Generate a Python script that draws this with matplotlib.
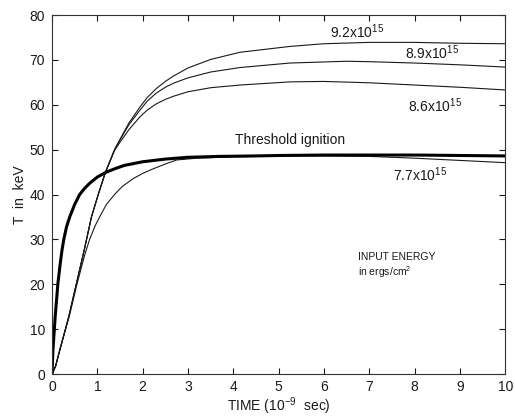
import matplotlib
matplotlib.use("Agg")
import matplotlib.pyplot as plt

plt.rcParams['font.family'] = ['Liberation Sans', 'DejaVu Sans']
plt.rcParams['mathtext.default'] = 'regular'

# Threshold ignition (thick curve)
t_thr = [0, 0.02, 0.07, 0.13, 0.18, 0.22, 0.26, 0.32, 0.39, 0.5, 0.61, 0.72, 0.83, 1.0,
         1.2, 1.4, 1.6, 1.8, 2.0, 2.5, 3.0, 3.7, 4.5, 5, 6, 7, 8, 9, 10]
T_thr = [0, 5.3, 12.8, 20.2, 24.5, 27.6, 30, 32.8, 35, 37.8, 40, 41.4, 42.5, 43.9,
         45, 45.8, 46.5, 46.9, 47.3, 47.9, 48.3, 48.5, 48.6, 48.7, 48.8, 48.8, 48.8, 48.7, 48.6]

# 9.2e15
t_92 = [0, 0.08, 0.17, 0.27, 0.37, 0.54, 0.71, 0.87, 1.02, 1.18, 1.38, 1.49, 1.7, 1.94,
        2.1, 2.3, 2.5, 2.68, 3.0, 3.5, 4.15, 5.25, 6, 7, 8, 9, 10]
T_92 = [0, 1.8, 5.3, 9, 12.8, 20.2, 27.6, 35, 40, 45, 50, 52.1, 56, 59.5,
        61.6, 63.6, 65.2, 66.4, 68.2, 70.1, 71.7, 73.0, 73.6, 73.9, 73.9, 73.7, 73.6]

# 8.9e15
t_89 = [0, 0.08, 0.17, 0.27, 0.37, 0.54, 0.71, 0.87, 1.02, 1.18, 1.38, 1.49, 1.7, 1.94,
        2.1, 2.3, 2.5, 2.68, 3.0, 3.5, 4.15, 5.25, 6.5, 7, 8, 9, 10]
T_89 = [0, 1.8, 5.3, 9, 12.8, 20.2, 27.6, 35, 40, 45, 50, 52.0, 55.6, 58.8,
        60.8, 62.6, 63.9, 64.8, 66.0, 67.3, 68.3, 69.3, 69.7, 69.6, 69.3, 68.9, 68.4]

# 8.6e15
t_86 = [0, 0.08, 0.17, 0.27, 0.37, 0.54, 0.71, 0.87, 1.02, 1.18, 1.38, 1.49, 1.7, 1.94,
        2.1, 2.3, 2.5, 2.68, 3.0, 3.5, 4.15, 5.25, 6, 7, 8, 9, 10]
T_86 = [0, 1.8, 5.3, 9, 12.8, 20.2, 27.6, 35, 40, 45, 49.8, 51.5, 54.5, 57.3,
        58.8, 60.2, 61.2, 61.9, 62.9, 63.8, 64.4, 65.1, 65.2, 64.9, 64.4, 63.9, 63.3]

# 7.7e15
t_77 = [0, 0.08, 0.17, 0.27, 0.38, 0.55, 0.72, 0.83, 0.95, 1.05, 1.2, 1.38, 1.55, 1.8,
        2.0, 2.2, 2.5, 2.75, 3.2, 4, 5, 6, 7, 7.5, 8, 9, 10]
T_77 = [0, 1.8, 5.3, 9, 12.8, 20, 26.5, 30, 33, 35, 37.8, 40, 41.8, 43.6,
        44.7, 45.6, 46.8, 47.7, 48.1, 48.4, 48.6, 48.6, 48.5, 48.3, 48.1, 47.6, 47.1]

curve_labels = ['9.2x10$^{15}$', '8.9x10$^{15}$', '8.6x10$^{15}$', '7.7x10$^{15}$']
x_ticks = list(range(0, 11))
y_ticks = list(range(0, 81, 10))

fig = plt.figure(figsize=(5.15, 4.17), dpi=100)
ax = fig.add_axes([0.101, 0.103, 0.880, 0.861])

col = '#1a1a1a'
for t, T in [(t_92, T_92), (t_89, T_89), (t_86, T_86), (t_77, T_77)]:
    ax.plot(t, T, color=col, lw=0.8)
ax.plot(t_thr, T_thr, color='black', lw=2.2)

ax.set_xlim(0, 10)
ax.set_ylim(0, 80)
ax.set_xticks(x_ticks)
ax.set_yticks(y_ticks)
ax.tick_params(direction='in', top=True, right=True, length=4, width=0.8,
               labelsize=10, colors=col)
ax.tick_params(axis='x', pad=4)
ax.tick_params(axis='y', pad=5)
for s in ax.spines.values():
    s.set_linewidth(0.8)
    s.set_color('#333333')

label_pos = [(6.14, 76.3), (7.79, 71.5), (7.86, 59.8), (7.53, 44.5)]
for lab, (x, y) in zip(curve_labels, label_pos):
    ax.text(x, y, lab, fontsize=10, ha='left', va='center', color=col)

ax.text(4.04, 52.1, 'Threshold ignition', fontsize=10, ha='left', va='center', color=col)
ax.text(6.75, 26.0, 'INPUT ENERGY', fontsize=7.5, ha='left', va='center', color=col)
ax.text(6.75, 22.8, 'in ergs/cm$^2$', fontsize=7.5, ha='left', va='center', color=col)

ax.set_xlabel('TIME (10$^{-9}$  sec)', fontsize=10, labelpad=1, color=col)
ax.set_ylabel('T  in  keV', fontsize=10, labelpad=2, color=col)

fig.savefig('out.png', dpi=100)
